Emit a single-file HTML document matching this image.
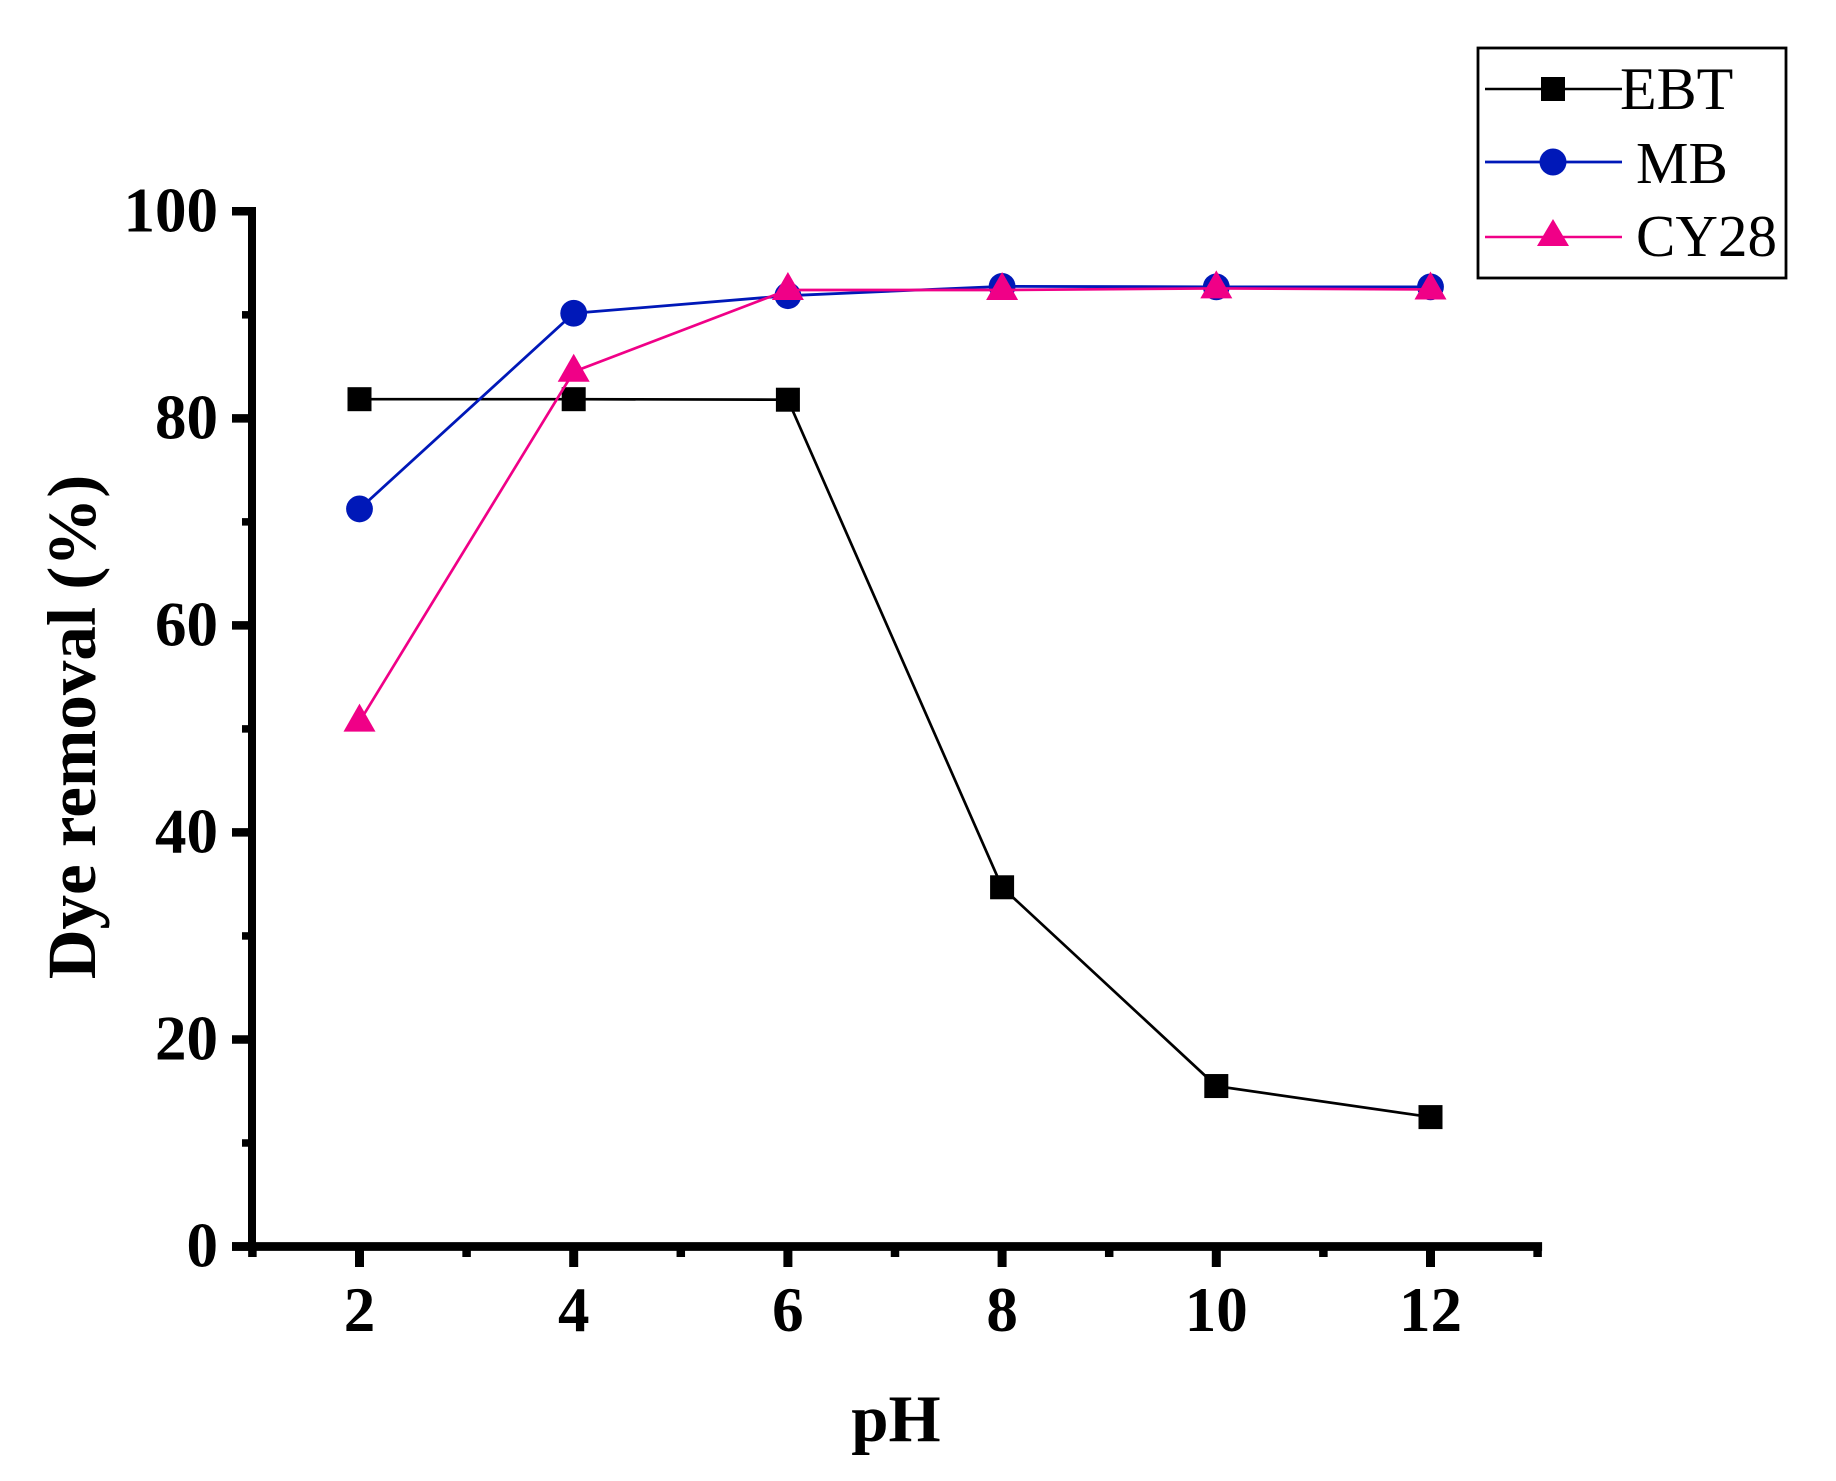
<!DOCTYPE html>
<html lang="en">
<head>
<meta charset="utf-8">
<title>Dye removal vs pH</title>
<style>
  html, body { margin: 0; padding: 0; background: #fff; }
  svg { display: block; font-family: "Liberation Serif", serif; }
  .tick-label { font-weight: bold; font-size: 63px; fill: #000; }
  .axis-title { font-weight: bold; font-size: 69px; fill: #000; }
  .x-title { font-size: 67px; }
  .legend-text { font-size: 60px; fill: #000; }
  .legend-text-narrow { font-size: 59px; fill: #000; }
</style>
</head>
<body>
<svg id="chart" width="1836" height="1481" viewBox="0 0 1836 1481" xmlns="http://www.w3.org/2000/svg">
  <rect x="0" y="0" width="1836" height="1481" fill="#fff"/>
  <g id="axes"></g>
  <g id="series"></g>
  <text class="axis-title x-title" x="896" y="1441" text-anchor="middle">pH</text>
  <text class="axis-title" text-anchor="middle" transform="translate(95 727) rotate(-90)">Dye removal (%)</text>
  <g>
    <rect x="1478" y="48" width="308" height="230" fill="#fff" stroke="#000" stroke-width="2.8"/>
    <g>
      <line x1="1485" y1="89" x2="1622" y2="89" stroke="#000" stroke-width="2.6"/>
      <rect x="1541" y="77" width="24" height="24" fill="#000"/>
      <text class="legend-text" x="1620" y="109">EBT</text>
    </g>
    <g>
      <line x1="1485" y1="162" x2="1622" y2="162" stroke="#0018b8" stroke-width="2.8"/>
      <circle cx="1553" cy="162" r="13.5" fill="#0018b8"/>
      <text class="legend-text-narrow" x="1636" y="183">MB</text>
    </g>
    <g>
      <line x1="1485" y1="237" x2="1622" y2="237" stroke="#f00087" stroke-width="2.6"/>
      <polygon points="1553,219 1569,246 1537,246" fill="#f00087"/>
      <text class="legend-text-narrow" x="1636" y="256">CY28</text>
    </g>
  </g>
</svg>
<script>
const categories = [2, 4, 6, 8, 10, 12];
const ebtValues = [81.85, 81.85, 81.8, 34.7, 15.5, 12.5];
const mbValues = [71.25, 90.15, 91.85, 92.75, 92.7, 92.7];
const cy28Values = [50.7, 84.5, 92.4, 92.4, 92.55, 92.45];
const xMajorTicks = [2, 4, 6, 8, 10, 12];
const xMinorTicks = [1, 3, 5, 7, 9, 11, 13];
const yMajorTicks = [0, 20, 40, 60, 80, 100];
const yMinorTicks = [10, 30, 50, 70, 90];

const NS = 'http://www.w3.org/2000/svg';
const xScale = function (v) { return 359.5 + (v - 2) * 107.1; };
const yScale = function (v) { return 1246.5 - v * 10.352; };
const axes = document.getElementById('axes');
const seriesLayer = document.getElementById('series');

function make(tag, parent) {
  const el = document.createElementNS(NS, tag);
  parent.appendChild(el);
  return el;
}
function drawLine(el, x1, y1, x2, y2, w, color) {
  el.setAttribute('x1', x1);
  el.setAttribute('y1', y1);
  el.setAttribute('x2', x2);
  el.setAttribute('y2', y2);
  el.setAttribute('stroke', color);
  el.setAttribute('stroke-width', w);
}

const yAxisLine = make('line', axes);


drawLine(yAxisLine, 252, yScale(100) - 4.3, 252, yScale(0) + 4.3, 8, '#000');

const xAxisLine = make('line', axes);


drawLine(xAxisLine, 232, yScale(0), xScale(13) + 4.5, yScale(0), 8.7, '#000');

yMajorTicks.forEach(function (v) {
  const t = make('line', axes);
  
  
  drawLine(t, 232, yScale(v), 252, yScale(v), 8.5, '#000');
  const label = make('text', axes);
  
  
  label.setAttribute('class', 'tick-label');
  label.setAttribute('x', 218);
  label.setAttribute('y', yScale(v) + 20);
  label.setAttribute('text-anchor', 'end');
  label.textContent = String(v);
});

yMinorTicks.forEach(function (v) {
  const t = make('line', axes);
  
  
  drawLine(t, 242, yScale(v), 252, yScale(v), 7.5, '#000');
});

xMajorTicks.forEach(function (v) {
  const t = make('line', axes);
  
  
  drawLine(t, xScale(v), yScale(0), xScale(v), 1267, 9, '#000');
  const label = make('text', axes);
  
  
  label.setAttribute('class', 'tick-label');
  label.setAttribute('x', xScale(v));
  label.setAttribute('y', 1331);
  label.setAttribute('text-anchor', 'middle');
  label.textContent = String(v);
});

xMinorTicks.forEach(function (v) {
  const t = make('line', axes);
  
  
  drawLine(t, xScale(v), yScale(0), xScale(v), 1257, 8.5, '#000');
});

function pointsOf(values) {
  return values.map(function (v, i) {
    return xScale(categories[i]) + ',' + yScale(v);
  }).join(' ');
}

const ebtLine = make('polyline', seriesLayer);


ebtLine.setAttribute('points', pointsOf(ebtValues));
ebtLine.setAttribute('fill', 'none');
ebtLine.setAttribute('stroke', '#000');
ebtLine.setAttribute('stroke-width', '2.7');

ebtValues.forEach(function (v, i) {
  const m = make('rect', seriesLayer);
  
  
  m.setAttribute('x', xScale(categories[i]) - 12);
  m.setAttribute('y', yScale(v) - 12);
  m.setAttribute('width', 24);
  m.setAttribute('height', 24);
  m.setAttribute('fill', '#000');
});

const mbLine = make('polyline', seriesLayer);


mbLine.setAttribute('points', pointsOf(mbValues));
mbLine.setAttribute('fill', 'none');
mbLine.setAttribute('stroke', '#0018b8');
mbLine.setAttribute('stroke-width', '2.8');

mbValues.forEach(function (v, i) {
  const m = make('circle', seriesLayer);
  
  
  m.setAttribute('cx', xScale(categories[i]));
  m.setAttribute('cy', yScale(v));
  m.setAttribute('r', 13.4);
  m.setAttribute('fill', '#0018b8');
});

const cy28Line = make('polyline', seriesLayer);


cy28Line.setAttribute('points', pointsOf(cy28Values));
cy28Line.setAttribute('fill', 'none');
cy28Line.setAttribute('stroke', '#f00087');
cy28Line.setAttribute('stroke-width', '2.7');

cy28Values.forEach(function (v, i) {
  const m = make('polygon', seriesLayer);
  
  
  const cx = xScale(categories[i]);
  const cy = yScale(v);
  m.setAttribute('points', cx + ',' + (cy - 18) + ' ' + (cx + 16) + ',' + (cy + 10) + ' ' + (cx - 16) + ',' + (cy + 10));
  m.setAttribute('fill', '#f00087');
});
</script>
</body>
</html>
